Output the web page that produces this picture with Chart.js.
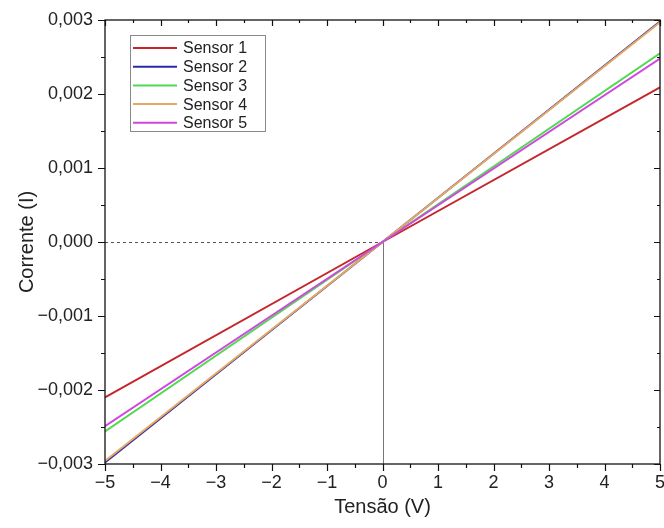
<!DOCTYPE html>
<html>
<head>
<meta charset="utf-8">
<script src="https://cdn.jsdelivr.net/npm/chart.js@4"></script>
<style>
  html, body { margin: 0; padding: 0; background: #fff; }
  #wrap { width: 664px; height: 528px; }
</style>
</head>
<body>
<div id="wrap"><canvas id="chart" width="664" height="528"></canvas></div>
<script>
/* ---------- data ---------- */
const voltage = [-5, 0, 5];
const sensor1 = [-0.00210, 0, 0.00209];
const sensor2 = [-0.00298, 0, 0.00298];
const sensor3 = [-0.00256, 0, 0.00255];
const sensor4 = [-0.00296, 0, 0.00297];
const sensor5 = [-0.00249, 0, 0.00248];

const seriesNames = ["Sensor 1", "Sensor 2", "Sensor 3", "Sensor 4", "Sensor 5"];
const seriesValues = [sensor1, sensor2, sensor3, sensor4, sensor5];
const seriesColors = ["#c4262d", "#2b2ba6", "#52d852", "#e6a862", "#cf48de"];

const xTicks = [-5, -4, -3, -2, -1, 0, 1, 2, 3, 4, 5];
const yTicks = [-0.003, -0.002, -0.001, 0, 0.001, 0.002, 0.003];

const FONT = "'Liberation Sans', Arial, sans-serif";

/* ---------- helpers ---------- */
function fmtY(v) {
  if (Math.abs(v) < 1e-9) return "0,000";
  return v.toFixed(3).replace(".", ",").replace("-", "\u2212");
}
function fmtX(v) {
  return String(v).replace("-", "\u2212");
}

/* ---------- plugin: zero lines (behind data) ---------- */
const zeroLines = {
  id: "zeroLines",
  beforeDatasetsDraw(chart) {
    const { ctx, scales: { x, y } } = chart;
    const x0 = Math.round(x.getPixelForValue(0)) + 0.5;
    const y0 = Math.round(y.getPixelForValue(0)) + 0.5;
    ctx.save();
    ctx.lineWidth = 1;
    ctx.strokeStyle = "#555";
    ctx.setLineDash([3, 3]);
    ctx.beginPath();
    ctx.moveTo(x.left, y0);
    ctx.lineTo(x0, y0);
    ctx.stroke();
    ctx.setLineDash([]);
    ctx.strokeStyle = "#777";
    ctx.beginPath();
    ctx.moveTo(x0, y0);
    ctx.lineTo(x0, y.bottom);
    ctx.stroke();
    ctx.restore();
  },
};

/* ---------- plugin: frame, ticks, legend ---------- */
const frameAndLegend = {
  id: "frameAndLegend",
  afterDraw(chart) {
    const { ctx, chartArea: a, scales: { x, y } } = chart;
    ctx.save();
    ctx.strokeStyle = "#111";
    ctx.lineWidth = 1.3;
    ctx.strokeRect(a.left, a.top, a.right - a.left, a.bottom - a.top);

    ctx.lineWidth = 1.2;
    ctx.beginPath();
    // x ticks: major every 1, minor every 0.5
    for (let i = -10; i <= 10; i++) {
      const px = Math.round(x.getPixelForValue(i / 2)) + 0.5;
      const major = i % 2 === 0;
      const outL = major ? 7 : 4;
      const inL = major ? 6 : 3;
      ctx.moveTo(px, a.bottom);
      ctx.lineTo(px, a.bottom + outL);
      ctx.moveTo(px, a.top);
      ctx.lineTo(px, a.top + inL);
    }
    // y ticks: major every 0.001, minor every 0.0005
    for (let i = -6; i <= 6; i++) {
      const py = Math.round(y.getPixelForValue(i * 0.0005)) + 0.5;
      const major = i % 2 === 0;
      const outL = major ? 7 : 4;
      const inL = major ? 6 : 3;
      ctx.moveTo(a.left, py);
      ctx.lineTo(a.left - outL, py);
      ctx.moveTo(a.right, py);
      ctx.lineTo(a.right - inL, py);
    }
    ctx.stroke();

    // legend box
    const lx = 130, ly = 35, lw = 135, lh = 96, rowH = 18.7;
    ctx.fillStyle = "#fff";
    ctx.fillRect(lx, ly, lw, lh);
    ctx.strokeStyle = "#8a8a8a";
    ctx.lineWidth = 1;
    ctx.strokeRect(lx + 0.5, ly + 0.5, lw, lh);
    ctx.font = "16px " + FONT;
    ctx.textBaseline = "middle";
    ctx.fillStyle = "#222";
    seriesNames.forEach((name, i) => {
      const ry = ly + 13 + i * rowH;
      ctx.strokeStyle = seriesColors[i];
      ctx.lineWidth = 2;
      ctx.beginPath();
      ctx.moveTo(lx + 3, ry);
      ctx.lineTo(lx + 47, ry);
      ctx.stroke();
      ctx.fillText(name, lx + 53, ry + 1);
    });
    ctx.restore();
  },
};

/* ---------- chart ---------- */
new Chart(document.getElementById("chart"), {
  type: "line",
  data: {
    datasets: seriesNames.map((name, s) => ({
      label: name,
      data: voltage.map((v, i) => ({ x: v, y: seriesValues[s][i] })),
      borderColor: seriesColors[s],
      backgroundColor: seriesColors[s],
      borderWidth: 2,
      pointRadius: 0,
      tension: 0,
      fill: false,
      order: -s, // later sensors drawn on top
    })),
  },
  options: {
    responsive: false,
    animation: false,
    layout: { padding: { left: 0, right: 4, top: 20, bottom: 0 } },
    plugins: {
      legend: { display: false },
      tooltip: { enabled: false },
    },
    scales: {
      x: {
        type: "linear",
        min: -5,
        max: 5,
        afterBuildTicks: (scale) => {
          scale.ticks = xTicks.map((v) => ({ value: v }));
        },
        afterFit: (scale) => {
          scale.height = 64;
          scale.paddingLeft = 0;
          scale.paddingRight = 0;
        },
        grid: { display: false, drawTicks: false },
        border: { display: false },
        ticks: {
          color: "#222",
          font: { family: FONT, size: 18 },
          padding: 8,
          maxRotation: 0,
          callback: (v) => fmtX(v),
        },
        title: {
          display: true,
          text: "Tensão (V)",
          color: "#222",
          font: { family: FONT, size: 20 },
          padding: { top: 0, bottom: 9 },
        },
      },
      y: {
        type: "linear",
        min: -0.003,
        max: 0.003,
        afterBuildTicks: (scale) => {
          scale.ticks = yTicks.map((v) => ({ value: v }));
        },
        afterFit: (scale) => {
          scale.width = 105;
          scale.paddingTop = 0;
          scale.paddingBottom = 0;
        },
        grid: { display: false, drawTicks: false },
        border: { display: false },
        ticks: {
          color: "#222",
          font: { family: FONT, size: 18 },
          padding: 12,
          callback: (v) => fmtY(v),
        },
        title: {
          display: true,
          text: "Corrente (I)",
          color: "#222",
          font: { family: FONT, size: 20 },
          padding: { top: 15, bottom: 0 },
        },
      },
    },
  },
  plugins: [zeroLines, frameAndLegend],
});
</script>
</body>
</html>
